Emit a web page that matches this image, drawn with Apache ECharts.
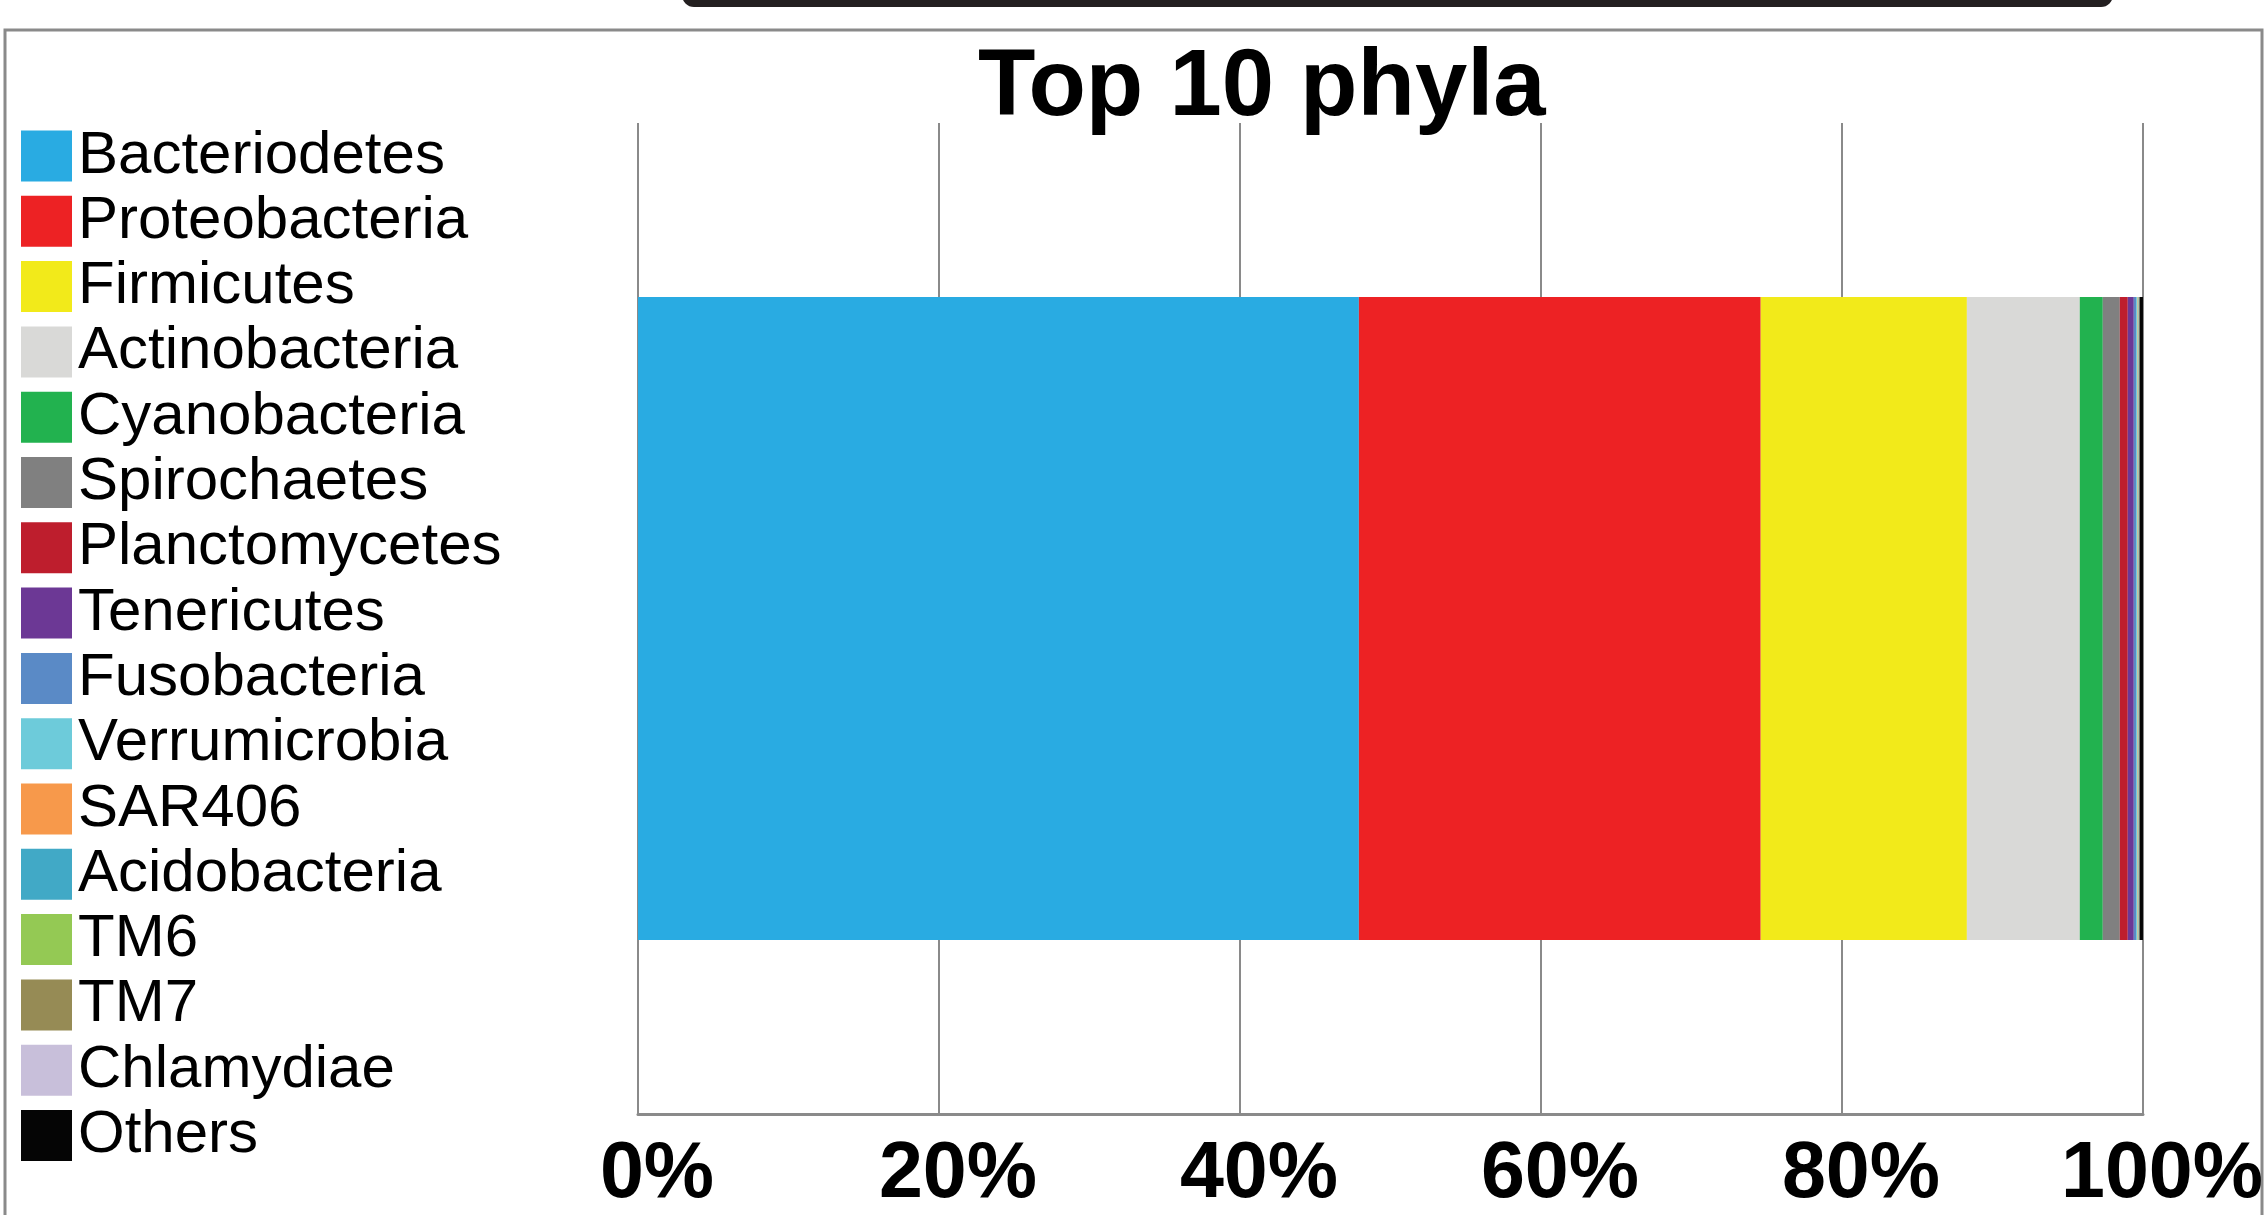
<!DOCTYPE html>
<html>
<head>
<meta charset="utf-8">
<script src="https://cdn.jsdelivr.net/npm/echarts@6/dist/echarts.min.js"></script>
<style>
html, body { margin: 0; padding: 0; background: #fff; }
#main { width: 2266px; height: 1215px; }
</style>
</head>
<body>
<div id="main"></div>
<script>
// phyla in stacking order (legend order too)
var phyla = ['Bacteriodetes', 'Proteobacteria', 'Firmicutes', 'Actinobacteria', 'Cyanobacteria',
  'Spirochaetes', 'Planctomycetes', 'Tenericutes', 'Fusobacteria', 'Verrumicrobia',
  'SAR406', 'Acidobacteria', 'TM6', 'TM7', 'Chlamydiae', 'Others'];
// relative abundance, %
var share = [47.9, 26.7, 13.7, 7.5, 1.53, 1.13, 0.53, 0.40, 0.15, 0.10,
  0.05, 0.03, 0.02, 0.02, 0.01, 0.23];
var colors = ['#29abe2', '#ed2224', '#f2ea1a', '#d9d9d7', '#22b24f', '#808080', '#be1e2d', '#6c3895',
  '#5a8ac6', '#6dcbda', '#f7994b', '#41a9c6', '#94c954', '#968b55', '#c8bfda', '#050505'];
var sample = ['Top 10 phyla'];
var ticks = [0, 20, 40, 60, 80, 100];

var chartDom = document.getElementById('main');
var myChart = echarts.init(chartDom);

var series = phyla.map(function (name, i) {
  return {
    name: name,
    type: 'bar',
    stack: 'total',
    barWidth: 643,
    itemStyle: { color: colors[i] },
    data: [share[i]]
  };
});

var option = {
  backgroundColor: '#ffffff',
  animation: false,
  color: colors,
  title: {
    text: 'Top 10 phyla',
    left: 978,
    top: 42,
    padding: 0,
    textStyle: {
      fontFamily: 'Liberation Sans, Arial, sans-serif',
      fontWeight: 'bold',
      fontSize: 94,
      color: '#000'
    }
  },
  legend: {
    orient: 'vertical',
    left: 21,
    top: 126,
    padding: 0,
    height: 1080,
    icon: 'rect',
    itemWidth: 51,
    itemHeight: 51,
    itemGap: 5.3,
    data: phyla,
    textStyle: {
      fontFamily: 'Liberation Sans, Arial, sans-serif',
      fontSize: 60,
      color: '#000',
      padding: [0, 0, 0, 1]
    }
  },
  grid: {
    left: 638,
    right: 121,
    top: 123,
    bottom: 95
  },
  xAxis: {
    type: 'value',
    min: 0,
    max: 100,
    interval: 20,
    axisLine: { show: true, lineStyle: { color: '#8a8a8a', width: 3 } },
    axisTick: { show: false },
    splitLine: { show: true, lineStyle: { color: '#8a8a8a', width: 2 } },
    axisLabel: {
      margin: 22,
      padding: [0, 0, 0, 38],
      fontFamily: 'Liberation Sans, Arial, sans-serif',
      fontWeight: 'bold',
      fontSize: 79,
      color: '#000',
      formatter: function (v) { return ticks.indexOf(v) >= 0 ? v + '%' : ''; }
    }
  },
  yAxis: {
    type: 'category',
    data: sample,
    show: false
  },
  graphic: [
    {
      // panel frame
      type: 'polyline',
      shape: { points: [[5, 1215], [5, 30], [2262, 30], [2262, 1215]] },
      style: { stroke: '#8a8a8a', lineWidth: 3, fill: null }
    },
    {
      // bottom of the panel above, cut off
      type: 'rect',
      shape: { x: 682, y: -30, width: 1431, height: 37, r: 12 },
      style: { fill: '#231f20' }
    }
  ],
  series: series
};

option && myChart.setOption(option);
window.addEventListener('resize', function () {
  myChart.resize();
});
</script>
</body>
</html>
